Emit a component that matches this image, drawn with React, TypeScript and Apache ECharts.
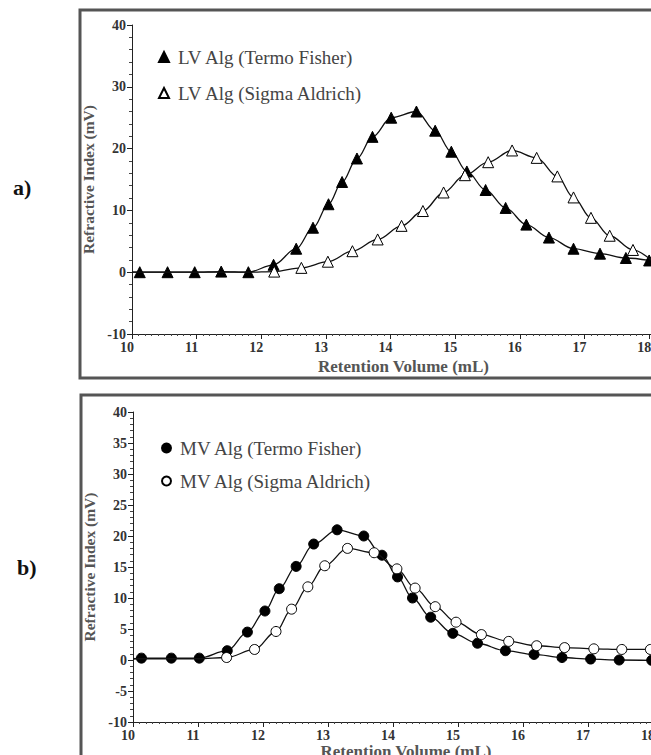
import React, { useEffect, useRef } from "react";
import * as echarts from "echarts";

const FONT = "'Liberation Serif', 'Times New Roman', serif";

// ---- Panel a) LV alginate ----
const lvTermoX = [10.12, 10.55, 10.97, 11.38, 11.8, 12.19, 12.54, 12.8, 13.04, 13.25, 13.48, 13.72, 14.01, 14.4, 14.69, 14.94, 15.18, 15.47, 15.78, 16.1, 16.45, 16.83, 17.24, 17.64, 18.0];
const lvTermoY = [0, 0, 0, 0.1, 0, 1.2, 3.8, 7.2, 11.0, 14.6, 18.4, 21.9, 25.0, 26.0, 22.9, 19.5, 16.3, 13.3, 10.4, 7.7, 5.6, 3.8, 3.0, 2.3, 1.9];
const lvTermoLeadX = [10.0];
const lvTermoLeadY = [0];

const lvSigmaX = [12.2, 12.62, 13.03, 13.41, 13.8, 14.17, 14.5, 14.82, 15.15, 15.51, 15.88, 16.26, 16.58, 16.83, 17.1, 17.39, 17.75];
const lvSigmaY = [0.1, 0.7, 1.7, 3.4, 5.3, 7.5, 9.9, 12.9, 15.7, 17.8, 19.7, 18.5, 15.5, 12.1, 8.8, 5.9, 3.6];
const lvSigmaLeadX = [10.0, 11.0, 11.8];
const lvSigmaLeadY = [0, 0, 0];
const lvSigmaTailX = [18.05];
const lvSigmaTailY = [1.8];

// ---- Panel b) MV alginate ----
const mvTermoX = [10.13, 10.59, 11.02, 11.45, 11.76, 12.03, 12.25, 12.51, 12.78, 13.14, 13.55, 13.83, 14.07, 14.3, 14.58, 14.92, 15.3, 15.73, 16.17, 16.6, 17.04, 17.48, 17.98];
const mvTermoY = [0.3, 0.3, 0.3, 1.5, 4.5, 7.9, 11.5, 15.1, 18.7, 21.0, 20.0, 16.9, 13.4, 10.0, 6.9, 4.3, 2.7, 1.5, 0.9, 0.4, 0.15, 0, -0.05];
const mvTermoLeadX = [10.0];
const mvTermoLeadY = [0.2];

const mvSigmaX = [11.44, 11.87, 12.2, 12.44, 12.69, 12.95, 13.3, 13.71, 14.06, 14.34, 14.65, 14.97, 15.36, 15.78, 16.21, 16.64, 17.09, 17.52, 17.96];
const mvSigmaY = [0.4, 1.7, 4.6, 8.2, 11.8, 15.2, 18.0, 17.3, 14.7, 11.6, 8.6, 6.1, 4.1, 3.0, 2.3, 2.0, 1.8, 1.7, 1.7];
const mvSigmaLeadX = [10.0, 10.6, 11.0];
const mvSigmaLeadY = [0.2, 0.2, 0.2];

const xTicks = [10, 11, 12, 13, 14, 15, 16, 17, 18];
const names = {
  lvTermo: "LV Alg (Termo Fisher)",
  lvSigma: "LV Alg (Sigma Aldrich)",
  mvTermo: "MV Alg (Termo Fisher)",
  mvSigma: "MV Alg (Sigma Aldrich)",
};

function buildData(lx: number[], ly: number[], mx: number[], my: number[], tx: number[] = [], ty: number[] = []) {
  const lead = lx.map((x, i) => ({ value: [x, ly[i]], symbol: "none" }));
  const marks = mx.map((x, i) => ({ value: [x, my[i]] }));
  const tail = tx.map((x, i) => ({ value: [x, ty[i]], symbol: "none" }));
  return [...lead, ...marks, ...tail];
}

function xAxisCfg(gridIndex: number, nameGap: number) {
  return {
    type: "value",
    gridIndex,
    min: 10,
    max: 18.4,
    interval: 1,
    name: "Retention Volume (mL)",
    nameLocation: "middle",
    nameGap,
    nameTextStyle: { fontFamily: FONT, fontWeight: "bold", fontSize: 17, color: "#555" },
    axisLine: { show: true, onZero: false, lineStyle: { color: "#222", width: 1 } },
    axisTick: { show: true, inside: false, length: 5, lineStyle: { color: "#222" } },
    minorTick: { show: true, splitNumber: 10, length: 2, lineStyle: { color: "#444" } },
    splitLine: { show: false },
    minorSplitLine: { show: false },
    axisLabel: {
      fontFamily: FONT,
      fontSize: 14,
      fontWeight: "bold",
      color: "#333",
      margin: 6,
      padding: [0, 10, 0, 0],
      formatter: (v: number) => (xTicks.indexOf(v) >= 0 ? String(v) : ""),
    },
  };
}

function yAxisCfg(gridIndex: number, interval: number) {
  return {
    type: "value",
    gridIndex,
    min: -10,
    max: 40,
    interval,
    name: "Refractive Index (mV)",
    nameLocation: "middle",
    nameGap: 34,
    nameTextStyle: { fontFamily: FONT, fontWeight: "bold", fontSize: 15.5, color: "#555" },
    axisLine: { show: true, onZero: false, lineStyle: { color: "#222", width: 1 } },
    axisTick: { show: true, inside: false, length: 5, lineStyle: { color: "#222" } },
    minorTick: { show: true, splitNumber: 5, length: 3, lineStyle: { color: "#444" } },
    splitLine: { show: false },
    axisLabel: {
      fontFamily: FONT,
      fontSize: 14,
      fontWeight: "bold",
      color: "#333",
      margin: 6,
      padding: [0, 0, 8, 0],
    },
  };
}

function lineSeries(name: string, idx: number, data: any[], symbol: string, size: number, filled: boolean) {
  return {
    type: "line",
    name,
    xAxisIndex: idx,
    yAxisIndex: idx,
    data,
    symbol,
    symbolSize: size,
    showAllSymbol: true,
    smooth: 0.35,
    smoothMonotone: "x",
    silent: true,
    lineStyle: { color: "#111", width: 1.3 },
    itemStyle: { color: filled ? "#000" : "#fff", borderColor: "#000", borderWidth: 1 },
    emphasis: { disabled: true },
    z: filled ? 3 : 4,
  };
}

export default function App() {
  const ref = useRef<HTMLDivElement>(null);
  useEffect(() => {
    if (!ref.current) return;
    const chart = echarts.init(ref.current, undefined, { renderer: "svg" });
    const legendText = { fontFamily: FONT, fontSize: 19, color: "#444", padding: [0, 0, 0, 4], lineHeight: 20 };
    chart.setOption({
      animation: false,
      backgroundColor: "#fff",
      grid: [
        { left: 132, top: 25, width: 543, height: 309 },
        { left: 133, top: 412, width: 546, height: 310 },
      ],
      xAxis: [xAxisCfg(0, 24), xAxisCfg(1, 17)],
      yAxis: [yAxisCfg(0, 10), yAxisCfg(1, 5)],
      legend: [
        {
          data: [names.lvTermo, names.lvSigma],
          orient: "vertical",
          left: 153,
          top: 42,
          icon: "triangle",
          itemWidth: 10,
          itemHeight: 10,
          itemGap: 16,
          selectedMode: false,
          textStyle: legendText,
        },
        {
          data: [names.mvTermo, names.mvSigma],
          orient: "vertical",
          left: 156,
          top: 433,
          icon: "circle",
          itemWidth: 9,
          itemHeight: 9,
          itemGap: 13,
          selectedMode: false,
          textStyle: legendText,
        },
      ],
      graphic: [
        { type: "rect", silent: true, shape: { x: 80, y: 10, width: 700, height: 368 }, style: { fill: "none", stroke: "#555", lineWidth: 3 } },
        { type: "rect", silent: true, shape: { x: 81, y: 395, width: 700, height: 420 }, style: { fill: "none", stroke: "#555", lineWidth: 3 } },
        { type: "text", silent: true, x: 13, y: 176, style: { text: "a)", font: `bold 22px ${FONT}`, fill: "#111" } },
        { type: "text", silent: true, x: 17, y: 556, style: { text: "b)", font: `bold 22px ${FONT}`, fill: "#111" } },
      ],
      series: [
        lineSeries(names.lvTermo, 0, buildData(lvTermoLeadX, lvTermoLeadY, lvTermoX, lvTermoY), "triangle", 11, true),
        lineSeries(names.lvSigma, 0, buildData(lvSigmaLeadX, lvSigmaLeadY, lvSigmaX, lvSigmaY, lvSigmaTailX, lvSigmaTailY), "triangle", 11, false),
        lineSeries(names.mvTermo, 1, buildData(mvTermoLeadX, mvTermoLeadY, mvTermoX, mvTermoY), "circle", 10, true),
        lineSeries(names.mvSigma, 1, buildData(mvSigmaLeadX, mvSigmaLeadY, mvSigmaX, mvSigmaY), "circle", 10, false),
      ],
    });
    return () => chart.dispose();
  }, []);
  return (
    <div style={{ position: "absolute", left: 0, top: 0, width: 651, height: 755, overflow: "hidden", background: "#fff" }}>
      <div ref={ref} style={{ width: 720, height: 800 }} />
    </div>
  );
}
